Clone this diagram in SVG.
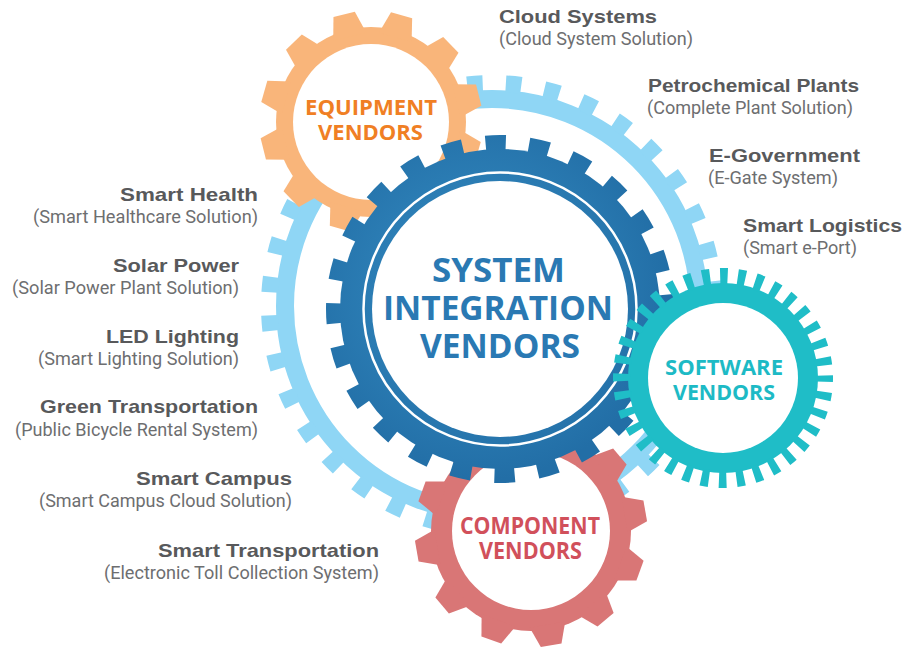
<svg xmlns="http://www.w3.org/2000/svg" width="906" height="650" viewBox="0 0 906 650">
<defs>
<style>
.title{font-family:"Liberation Sans",Arial,sans-serif;font-weight:bold;font-size:19px;fill:#58595b}
.sub{font-family:"Roboto","Liberation Sans",sans-serif;font-size:18px;fill:#6d6e70}
.gl{font-family:"Open Sans","Liberation Sans",sans-serif;font-weight:bold;text-anchor:middle}
</style>
<radialGradient id="blueGrad" gradientUnits="userSpaceOnUse" cx="480" cy="290" r="190">
<stop offset="0" stop-color="#3790c6"/>
<stop offset="1" stop-color="#226ea6"/>
</radialGradient>
<polygon id="toothO" points="88,-17 111,-11 111,11 88,17"/>
<polygon id="toothR" points="95,-18 116,-10.5 116,10.5 95,18"/>
</defs>
<rect width="906" height="650" fill="#fff"/>

<g id="ring-gear">
<circle cx="492" cy="306" r="207" fill="none" stroke="#8fd6f5" stroke-width="18"/>
<circle cx="492" cy="306" r="222.5" fill="none" stroke="#8fd6f5" stroke-width="17" stroke-dasharray="15.53 23.30" stroke-dashoffset="25.24"/>
</g>

<g id="equipment-vendors">
<circle cx="371" cy="122" r="95" fill="#f9b57a"/>
<g fill="#f9b57a" transform="translate(371 122)">
<use href="#toothO" transform="rotate(-14)"/><use href="#toothO" transform="rotate(16)"/><use href="#toothO" transform="rotate(46)"/><use href="#toothO" transform="rotate(76)"/><use href="#toothO" transform="rotate(106)"/><use href="#toothO" transform="rotate(136)"/><use href="#toothO" transform="rotate(166)"/><use href="#toothO" transform="rotate(196)"/><use href="#toothO" transform="rotate(226)"/><use href="#toothO" transform="rotate(256)"/><use href="#toothO" transform="rotate(286)"/><use href="#toothO" transform="rotate(316)"/>
</g>
<circle cx="371" cy="122" r="78" fill="#fff"/>
<text class="gl" x="371" y="115" font-size="22" fill="#f07f24" textLength="132" lengthAdjust="spacingAndGlyphs">EQUIPMENT</text>
<text class="gl" x="370.5" y="140" font-size="22" fill="#f07f24" textLength="105" lengthAdjust="spacingAndGlyphs">VENDORS</text>
</g>

<g id="component-vendors">
<circle cx="531" cy="531" r="100" fill="#d97676"/>
<g fill="#d97676" transform="translate(531 531)">
<use href="#toothR" transform="rotate(-10)"/><use href="#toothR" transform="rotate(20)"/><use href="#toothR" transform="rotate(50)"/><use href="#toothR" transform="rotate(80)"/><use href="#toothR" transform="rotate(110)"/><use href="#toothR" transform="rotate(140)"/><use href="#toothR" transform="rotate(170)"/><use href="#toothR" transform="rotate(200)"/><use href="#toothR" transform="rotate(230)"/><use href="#toothR" transform="rotate(260)"/><use href="#toothR" transform="rotate(290)"/><use href="#toothR" transform="rotate(320)"/>
</g>
<circle cx="531" cy="531" r="79" fill="#fff"/>
<text class="gl" x="530" y="534" font-size="23" fill="#d1505b" textLength="140" lengthAdjust="spacingAndGlyphs">COMPONENT</text>
<text class="gl" x="530.5" y="559" font-size="23" fill="#d1505b" textLength="103" lengthAdjust="spacingAndGlyphs">VENDORS</text>
</g>

<g id="system-integration-vendors">
<circle cx="500" cy="309" r="160" fill="url(#blueGrad)"/>
<circle cx="500" cy="309" r="166" fill="none" stroke="url(#blueGrad)" stroke-width="16" stroke-dasharray="20.28 23.18" stroke-dashoffset="14.78"/>
<circle cx="500" cy="309" r="136.5" fill="none" stroke="#fff" stroke-width="2.5"/>
<circle cx="500" cy="309" r="128" fill="#fff"/>
<text class="gl" x="498.5" y="282" font-size="34" fill="#2a79b3" textLength="133" lengthAdjust="spacingAndGlyphs">SYSTEM</text>
<text class="gl" x="498" y="320" font-size="34" fill="#2a79b3" textLength="230" lengthAdjust="spacingAndGlyphs">INTEGRATION</text>
<text class="gl" x="500" y="358" font-size="34" fill="#2a79b3" textLength="160" lengthAdjust="spacingAndGlyphs">VENDORS</text>
</g>

<g id="software-vendors">
<circle cx="723" cy="378" r="95" fill="#1fbdc7"/>
<circle cx="723" cy="378" r="101.5" fill="none" stroke="#1fbdc7" stroke-width="17" stroke-dasharray="7.65 10.07" stroke-dashoffset="3.81"/>
<circle cx="723" cy="378" r="75" fill="#fff"/>
<text class="gl" x="724" y="375" font-size="21" fill="#1dbac5" textLength="118" lengthAdjust="spacingAndGlyphs">SOFTWARE</text>
<text class="gl" x="724" y="400" font-size="21" fill="#1dbac5" textLength="102" lengthAdjust="spacingAndGlyphs">VENDORS</text>
</g>

<g id="labels">
<g id="cloud-systems"><text class="title" x="499" y="23" textLength="158" lengthAdjust="spacingAndGlyphs">Cloud Systems</text><text class="sub" x="499" y="45" textLength="194" lengthAdjust="spacingAndGlyphs">(Cloud System Solution)</text></g>
<g id="petrochemical-plants"><text class="title" x="648" y="92" textLength="211" lengthAdjust="spacingAndGlyphs">Petrochemical Plants</text><text class="sub" x="647" y="114" textLength="206" lengthAdjust="spacingAndGlyphs">(Complete Plant Solution)</text></g>
<g id="e-government"><text class="title" x="709" y="162" textLength="151" lengthAdjust="spacingAndGlyphs">E-Government</text><text class="sub" x="708" y="184" textLength="130" lengthAdjust="spacingAndGlyphs">(E-Gate System)</text></g>
<g id="smart-logistics"><text class="title" x="743" y="232" textLength="159" lengthAdjust="spacingAndGlyphs">Smart Logistics</text><text class="sub" x="743" y="254" textLength="114" lengthAdjust="spacingAndGlyphs">(Smart e-Port)</text></g>
<g id="smart-health"><text class="title" x="120" y="201" textLength="138" lengthAdjust="spacingAndGlyphs">Smart Health</text><text class="sub" x="33" y="223" textLength="225" lengthAdjust="spacingAndGlyphs">(Smart Healthcare Solution)</text></g>
<g id="solar-power"><text class="title" x="113" y="272" textLength="126" lengthAdjust="spacingAndGlyphs">Solar Power</text><text class="sub" x="12" y="294" textLength="227" lengthAdjust="spacingAndGlyphs">(Solar Power Plant Solution)</text></g>
<g id="led-lighting"><text class="title" x="106" y="343" textLength="133" lengthAdjust="spacingAndGlyphs">LED Lighting</text><text class="sub" x="38" y="365" textLength="201" lengthAdjust="spacingAndGlyphs">(Smart Lighting Solution)</text></g>
<g id="green-transportation"><text class="title" x="40" y="413" textLength="218" lengthAdjust="spacingAndGlyphs">Green Transportation</text><text class="sub" x="15" y="436" textLength="243" lengthAdjust="spacingAndGlyphs">(Public Bicycle Rental System)</text></g>
<g id="smart-campus"><text class="title" x="136" y="485" textLength="156" lengthAdjust="spacingAndGlyphs">Smart Campus</text><text class="sub" x="39" y="507" textLength="253" lengthAdjust="spacingAndGlyphs">(Smart Campus Cloud Solution)</text></g>
<g id="smart-transportation"><text class="title" x="158" y="557" textLength="221" lengthAdjust="spacingAndGlyphs">Smart Transportation</text><text class="sub" x="104" y="579" textLength="275" lengthAdjust="spacingAndGlyphs">(Electronic Toll Collection System)</text></g>
</g>
</svg>
